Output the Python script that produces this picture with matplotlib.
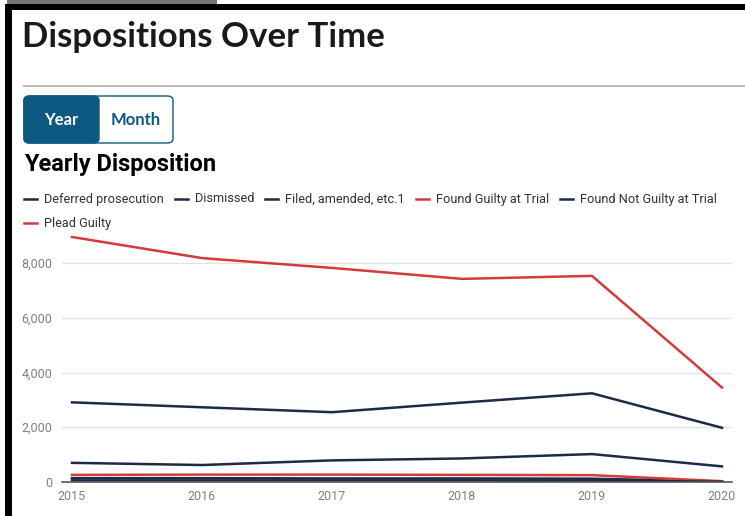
import matplotlib
matplotlib.use("Agg")
import matplotlib.pyplot as plt
from matplotlib.patches import Rectangle, FancyBboxPatch
from matplotlib.lines import Line2D
import matplotlib.ticker as mticker

# --- data ---
years = [2015, 2016, 2017, 2018, 2019, 2020]
series_names = ["Deferred prosecution", "Dismissed", "Filed, amended, etc.1",
                "Found Guilty at Trial", "Found Not Guilty at Trial", "Plead Guilty"]
deferred = [140, 140, 130, 130, 120, 20]
dismissed = [2910, 2730, 2550, 2900, 3240, 1980]
filed = [700, 620, 790, 860, 1020, 570]
guilty_trial = [260, 270, 270, 260, 250, 30]
not_guilty_trial = [60, 60, 60, 60, 50, 10]
plead_guilty = [8950, 8180, 7820, 7420, 7530, 3450]
series_values = [deferred, dismissed, filed, guilty_trial, not_guilty_trial, plead_guilty]
y_ticks = [0, 2000, 4000, 6000, 8000]

NAVY = "#1b2a47"
RED = "#d23b3b"
series_colors = [NAVY, NAVY, NAVY, RED, NAVY, RED]
BLUE = "#0c5a82"

W, H = 745, 516
fig = plt.figure(figsize=(W / 100, H / 100), dpi=100)
fig.patch.set_facecolor("white")


def fx(x):
    return x / W


def fy(y):
    return 1 - y / H


# frame bits from the screenshot
fig.add_artist(Rectangle((fx(7), fy(4)), fx(210), 4 / H, transform=fig.transFigure,
                         color="#777777", lw=0))
fig.add_artist(Rectangle((fx(5), fy(10)), 1, 6 / H, transform=fig.transFigure,
                         color="black", lw=0))
fig.add_artist(Rectangle((fx(5), 0), fx(7), fy(4), transform=fig.transFigure,
                         color="black", lw=0))

fig.text(fx(22), fy(37), "Dispositions Over Time", fontsize=25, fontweight="bold",
         family="Lato", color="#1a1a1a", va="center", ha="left")
fig.add_artist(Line2D([fx(24), 1], [fy(86), fy(86)], transform=fig.transFigure,
                      color="#bdbdbd", lw=1.5))

# Year / Month toggle
fig.add_artist(FancyBboxPatch((fx(24), fy(143)), fx(149), 47 / H,
                              boxstyle="round,pad=0,rounding_size=0.008",
                              transform=fig.transFigure, fc="white", ec=BLUE, lw=1))
fig.add_artist(FancyBboxPatch((fx(24), fy(143)), fx(75), 47 / H,
                              boxstyle="round,pad=0,rounding_size=0.008",
                              transform=fig.transFigure, fc=BLUE, ec=BLUE, lw=1))
fig.text(fx(61), fy(120), "Year", fontsize=12, fontweight="bold", family="Lato",
         color="white", ha="center", va="center")
fig.text(fx(136), fy(120), "Month", fontsize=12, fontweight="bold", family="Lato",
         color=BLUE, ha="center", va="center")

fig.text(fx(24), fy(164), "Yearly Disposition", fontsize=17, fontweight="bold",
         family="Roboto", color="black", ha="left", va="center")

# legend, laid out like the web chart
legend_pos = [(24, 199), (175, 199), (265, 199), (416, 199), (560, 199), (24, 223)]
for name, col, (lx, ly) in zip(series_names, series_colors, legend_pos):
    fig.add_artist(Line2D([fx(lx), fx(lx + 13)], [fy(ly), fy(ly)],
                          transform=fig.transFigure, color=col, lw=1.8))
    fig.text(fx(lx + 20), fy(ly), name, fontsize=9.2, family="Roboto",
             color="#333333", ha="left", va="center")

# plot area: 2015 at x=72px, 2020 at x=722px, 0 at y=482px, 8000 at y=263px
px_per_year = 130.0
ax = fig.add_axes([fx(62), fy(482), fx(670), (482 - 230) / H])
for vals, col in zip(series_values, series_colors):
    ax.plot(years, vals, color=col, lw=1.8, solid_joinstyle="miter")

ax.set_xlim(2015 - 10 / px_per_year, 2020 + 10 / px_per_year)
ax.set_ylim(0, 252 / 219 * 8000)
ax.set_xticks(years)
ax.set_yticks(y_ticks)
ax.yaxis.set_major_formatter(mticker.FuncFormatter(lambda v, p: f"{int(v):,}"))
ax.grid(axis="y", color="#e3e3e3", lw=1)
ax.set_axisbelow(True)
for s in ["top", "right", "left"]:
    ax.spines[s].set_visible(False)
ax.spines["bottom"].set_color("#555555")
ax.spines["bottom"].set_linewidth(1.2)
ax.tick_params(length=0, labelsize=9, labelcolor="#808080")
ax.tick_params(axis="y", pad=7)
ax.tick_params(axis="x", pad=6)
for lab in ax.get_xticklabels() + ax.get_yticklabels():
    lab.set_family("Roboto")

fig.savefig("out.png", dpi=100)
